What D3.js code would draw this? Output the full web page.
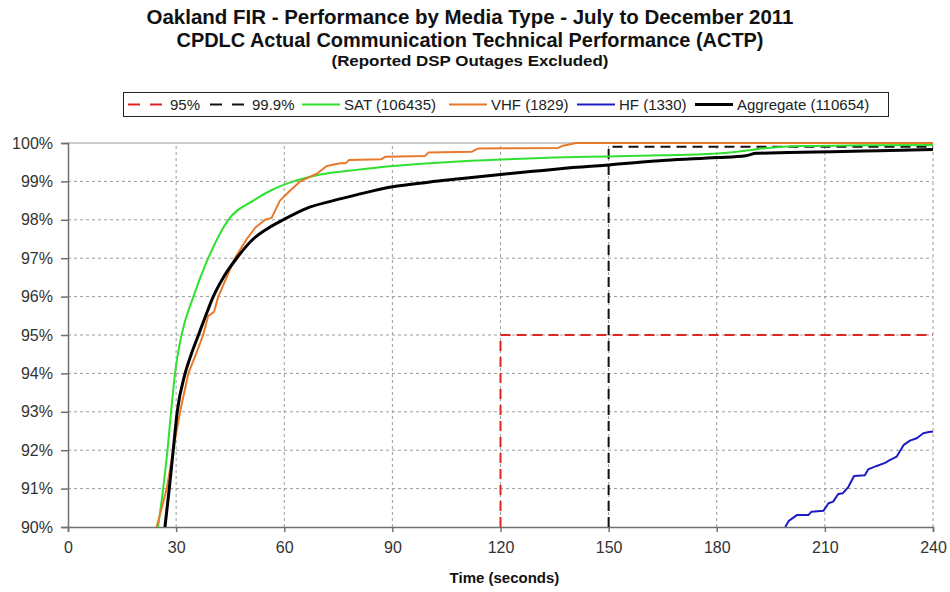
<!DOCTYPE html>
<html>
<head>
<meta charset="utf-8">
<script src="https://cdn.jsdelivr.net/npm/d3@7"></script>
<style>
	body { margin: 0; background: #fff; }
	text { font-family: "Liberation Sans", Arial, sans-serif; }
</style>
</head>
<body>
<div class="chart"></div>
<script>
// values (time in s, cumulative %)
var satT = [25.0, 26.4, 27.6, 28.6, 29.7, 31.5, 34.8, 38.9, 44.5, 51.4, 56, 62.5, 70, 80, 90, 105, 120, 135, 150, 165, 179, 187, 194, 203, 220, 240];
var satV = [90, 91, 92, 93, 94, 95, 96, 97, 98, 98.5, 98.75, 99.0, 99.18, 99.3, 99.4, 99.5, 99.57, 99.62, 99.65, 99.68, 99.72, 99.79, 99.87, 99.92, 99.94, 99.95];

var vhfT = [24.6, 27.4, 29.2, 31.1, 33.4, 35.5, 37.5, 38.9, 40.5, 41.7, 44.0, 46.3, 49.6, 52, 54.7, 56.5, 58.8, 61.5, 64.4, 69.0, 71.8, 75.5, 77, 78, 87, 88, 99, 100, 112, 113, 114, 136, 137, 141, 240];
var vhfV = [90, 91, 92, 93, 94, 94.5, 95, 95.5, 95.6, 96, 96.5, 97, 97.5, 97.8, 98, 98.05, 98.5, 98.75, 99.0, 99.2, 99.4, 99.47, 99.47, 99.56, 99.58, 99.64, 99.66, 99.75, 99.77, 99.82, 99.86, 99.87, 99.92, 100, 100];

var hfT = [199, 200, 202.2, 205.4, 206.3, 209.6, 211, 212.3, 213.7, 215, 216.5, 218.1, 221.1, 222, 224.4, 226.7, 228, 229.9, 231.9, 233.6, 235.5, 237.3, 239.2, 240];
var hfV = [90.0, 90.16, 90.31, 90.31, 90.40, 90.42, 90.62, 90.66, 90.86, 90.88, 91.04, 91.33, 91.35, 91.50, 91.59, 91.67, 91.74, 91.83, 92.14, 92.25, 92.31, 92.44, 92.48, 92.48];

var aggT = [26.9, 28.1, 29.2, 30.3, 32.5, 34.2, 36.2, 38.2, 40.3, 43.1, 46.8, 51.4, 55, 59.7, 66.2, 73.6, 80, 90, 100, 110, 120, 131, 140, 150, 166, 180, 188, 191, 200, 212, 225, 240];
var aggV = [90, 91, 92, 93, 94, 94.5, 95, 95.5, 96, 96.5, 97, 97.5, 97.75, 98, 98.3, 98.5, 98.65, 98.86, 98.98, 99.08, 99.18, 99.28, 99.36, 99.43, 99.55, 99.62, 99.67, 99.73, 99.75, 99.77, 99.8, 99.83];

// reference limits: 95% at 120 s, 99.9% at 150 s
var ref95 = {t: 120, v: 95};
var ref999 = {t: 150, v: 99.9};

var xTicks = [0, 30, 60, 90, 120, 150, 180, 210, 240];
var yTicks = [90, 91, 92, 93, 94, 95, 96, 97, 98, 99, 100];

var titles = [
	"Oakland FIR - Performance by Media Type - July to December 2011",
	"CPDLC Actual Communication Technical Performance (ACTP)",
	"(Reported DSP Outages Excluded)"
];
var legendNames = ["95%", "99.9%", "SAT (106435)", "VHF (1829)", "HF (1330)", "Aggregate (110654)"];

function zip(ts, vs) {
	return ts.map(function(t, i) { return {t: t, v: vs[i]}; });
}

var W = 950, H = 592;
var m = {left: 68, right: 17, top: 143, bottom: 65};
var pw = W - m.left - m.right, ph = H - m.top - m.bottom;

var svg = d3.select(".chart").append("svg")
	.attr("width", W)
	.attr("height", H);

var x = d3.scaleLinear().domain([0, 240]).range([m.left, m.left + pw]);
var y = d3.scaleLinear().domain([90, 100]).range([m.top + ph, m.top]);

// titles (the original face is a narrow bold, so stretch to its width)
var titleY = [24, 47, 66], titleSize = [20, 20, 15], titleLen = [647, 587, 277];
titles.forEach(function(s, i) {
	svg.append("text")
		.attr("x", 470)
		.attr("y", titleY[i])
		.attr("text-anchor", "middle")
		.attr("font-weight", "bold")
		.attr("font-size", titleSize[i])
		.attr("textLength", titleLen[i])
		.attr("lengthAdjust", "spacingAndGlyphs")
		.attr("fill", "#111")
		.text(s);
});

// grid
var grid = svg.append("g").attr("class", "grid");
yTicks.slice(1, -1).forEach(function(v) {
	grid.append("line")
		.attr("x1", x(0)).attr("x2", x(240))
		.attr("y1", y(v)).attr("y2", y(v))
		.attr("stroke", "#9a9a9a").attr("stroke-dasharray", "3,3");
});
xTicks.slice(1).forEach(function(t) {
	grid.append("line")
		.attr("x1", x(t)).attr("x2", x(t))
		.attr("y1", y(90)).attr("y2", y(100))
		.attr("stroke", "#9a9a9a").attr("stroke-dasharray", "3,3");
});
grid.append("line")
	.attr("x1", x(0)).attr("x2", x(240))
	.attr("y1", y(100)).attr("y2", y(100))
	.attr("stroke", "#9a9a9a");

// axes
var yAxis = d3.axisLeft(y).tickValues(yTicks)
	.tickFormat(function(d) { return d + "%"; })
	.tickSize(7).tickPadding(8);
var xAxis = d3.axisBottom(x).tickValues(xTicks)
	.tickSize(5).tickPadding(10);

var gy = svg.append("g").attr("transform", "translate(" + m.left + ",0)").call(yAxis);
var gx = svg.append("g").attr("transform", "translate(0," + (m.top + ph) + ")").call(xAxis);
[gx, gy].forEach(function(g) {
	g.select(".domain").attr("stroke", "#707070").attr("stroke-width", 1.5);
	g.selectAll(".tick line").attr("stroke", "#707070").attr("stroke-width", 1.5);
	g.selectAll(".tick text")
		.attr("font-size", 16)
		.attr("fill", "#333")
		.style("font-family", "'Liberation Sans', Arial, sans-serif");
});

svg.append("text")
	.attr("x", x(120) + 4)
	.attr("y", 583)
	.attr("text-anchor", "middle")
	.attr("font-weight", "bold")
	.attr("font-size", 15)
	.attr("fill", "#111")
	.text("Time (seconds)");

// clip
svg.append("clipPath").attr("id", "plot")
	.append("rect")
	.attr("x", m.left).attr("y", m.top - 3)
	.attr("width", pw + 3).attr("height", ph + 3);

var plot = svg.append("g").attr("clip-path", "url(#plot)");

var line = d3.line()
	.x(function(d) { return x(d.t); })
	.y(function(d) { return y(d.v); });
var smooth = d3.line()
	.curve(d3.curveMonotoneX)
	.x(function(d) { return x(d.t); })
	.y(function(d) { return y(d.v); });

// reference lines
plot.append("path")
	.attr("d", line([{t: ref95.t, v: 90}, {t: ref95.t, v: ref95.v}, {t: 240, v: ref95.v}]))
	.attr("fill", "none").attr("stroke", "#e02424").attr("stroke-width", 2)
	.attr("stroke-dasharray", "10,6");
plot.append("path")
	.attr("d", line([{t: ref999.t, v: 90}, {t: ref999.t, v: ref999.v}, {t: 240, v: ref999.v}]))
	.attr("fill", "none").attr("stroke", "#111").attr("stroke-width", 2)
	.attr("stroke-dasharray", "10,6");

var series = [
	{data: zip(hfT, hfV), color: "#1c1cc4", width: 2, gen: line},
	{data: zip(satT, satV), color: "#2fe02f", width: 2, gen: smooth},
	{data: zip(vhfT, vhfV), color: "#e8782a", width: 2, gen: line},
	{data: zip(aggT, aggV), color: "#000", width: 3, gen: smooth}
];
series.forEach(function(s) {
	plot.append("path")
		.attr("d", s.gen(s.data))
		.attr("fill", "none")
		.attr("stroke", s.color)
		.attr("stroke-width", s.width)
		.attr("stroke-linejoin", "round");
});

// legend
var lg = svg.append("g").attr("class", "legend");
lg.append("rect")
	.attr("x", 123.5).attr("y", 92.5)
	.attr("width", 765).attr("height", 24)
	.attr("fill", "#fff").attr("stroke", "#222");

var legendItems = [
	{x: 128, color: "#e02424", dash: "12,10", width: 2},
	{x: 210, color: "#111", dash: "12,10", width: 2},
	{x: 302, color: "#2fe02f", dash: null, width: 2},
	{x: 449, color: "#e8782a", dash: null, width: 2},
	{x: 577, color: "#1c1cc4", dash: null, width: 2},
	{x: 695, color: "#000", dash: null, width: 3}
];
legendItems.forEach(function(it, i) {
	lg.append("line")
		.attr("x1", it.x).attr("x2", it.x + 38)
		.attr("y1", 104.5).attr("y2", 104.5)
		.attr("stroke", it.color).attr("stroke-width", it.width)
		.attr("stroke-dasharray", it.dash);
	lg.append("text")
		.attr("x", it.x + 42)
		.attr("y", 110)
		.attr("font-size", 15)
		.attr("fill", "#222")
		.text(legendNames[i]);
});
</script>
</body>
</html>
